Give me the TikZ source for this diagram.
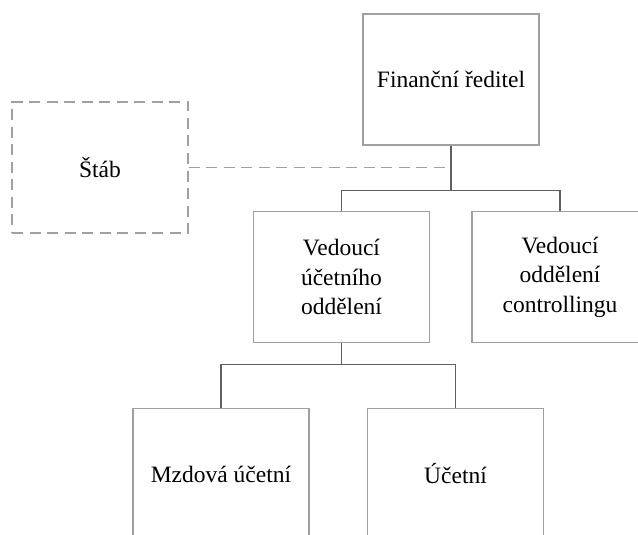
\documentclass[tikz,border=0pt]{standalone}
\usepackage{fontspec}
\setmainfont{Liberation Serif}
\definecolor{boxgray}{RGB}{160,160,160}
\definecolor{linegray}{RGB}{96,96,96}
\tikzset{
  unit/.style={draw=boxgray, line width=1.2pt, minimum width=176pt, minimum height=131pt,
    inner sep=0pt, align=center, font=\fontsize{23.5}{29.5}\selectfont},
  staff/.style={unit, dash pattern=on 11pt off 6.5pt},
  link/.style={draw=linegray, line width=1.2pt},
  stafflink/.style={draw=boxgray, line width=1.2pt, dash pattern=on 11pt off 6.5pt}
}
\begin{document}
\begin{tikzpicture}[x=1pt,y=-1pt]
\useasboundingbox [fill=white] (0,0) rectangle (638,535);
% boxes
\node [unit] (fin) at (451,79.5) {Finanční ředitel};
\node [staff] (stab) at (100,167.5) {Štáb};
\node [unit] (ucet) at (341.5,277) {Vedoucí\\účetního\\oddělení};
\node [unit] (ctrl) at (560,277) {Vedoucí\\oddělení\\controllingu};
\node [unit] (mzd) at (221,474) {Mzdová účetní};
\node [unit] (uc) at (455.5,474) {Účetní};
% connectors
\draw [stafflink] (stab.east) -- (stab.east -| fin.south);
\draw [link] (fin.south) -- ++(0,45) coordinate (j1);
\draw [link] (ucet.north) |- (j1) -| (ctrl.north);
\draw [link] (ucet.south) -- ++(0,21) coordinate (j2);
\draw [link] (mzd.north) |- (j2) -| (uc.north);
\end{tikzpicture}
\end{document}
